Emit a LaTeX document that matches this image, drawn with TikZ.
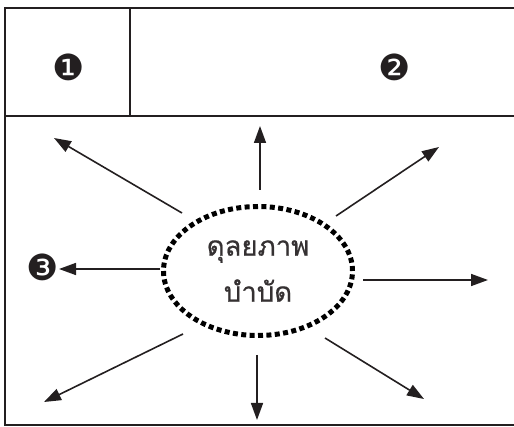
\documentclass[tikz,border=0pt]{standalone}
\usepackage{fontspec}
\usetikzlibrary{arrows.meta,shapes.geometric}
\newfontfamily\thaifont[Script=Thai,FakeBold=0.6]{Loma}
\newfontfamily\symfont{DejaVu Sans}
\definecolor{ink}{HTML}{231F20}
\begin{document}
\begin{tikzpicture}[x=1pt,y=-1pt,
  frame/.style={draw=ink,line width=2pt},
  ray/.style={draw=ink,line width=1.6pt,-{Triangle[length=17pt,width=12pt]}},
  num/.style={font=\symfont\fontsize{36}{36}\selectfont,text=ink,inner sep=0pt},
  ctr/.style={ellipse,draw=black,line width=5pt,dash pattern=on 5pt off 3.4pt,
    minimum width=189pt,minimum height=129pt,inner sep=0pt,
    font=\thaifont\fontsize{27.5}{46}\selectfont,text=ink!92,align=center}]
\useasboundingbox (0,0) rectangle (514,427);
% frame
\draw[frame] (520,8) -- (5,8) -- (5,425) -- (520,425);
\draw[frame] (5,116) -- (520,116);
\draw[frame] (130,8) -- (130,116);
% numbers
\node[num] (n1) at (69,67) {❶};
\node[num] (n2) at (395,67) {❷};
\node[num] (n3) at (43,267) {❸};
% centre
\node[ctr] (c) at (258,271) {ดุลยภาพ\\บำบัด};
% ray coordinates
\coordinate (s1) at (260,190); \coordinate (e1) at (260,126);
\coordinate (s2) at (182,213); \coordinate (e2) at (54,138);
\coordinate (s3) at (336,216); \coordinate (e3) at (439,147);
\coordinate (s4) at (363,280); \coordinate (e4) at (488,280);
\coordinate (s5) at (160,269); \coordinate (e5) at (59,269);
\coordinate (s6) at (183,334); \coordinate (e6) at (44,402);
\coordinate (s7) at (257,355); \coordinate (e7) at (257,420);
\coordinate (s8) at (325,338); \coordinate (e8) at (424,399);
\foreach \i in {1,...,8} {\draw[ray] (s\i) -- (e\i);}
\end{tikzpicture}
\end{document}
